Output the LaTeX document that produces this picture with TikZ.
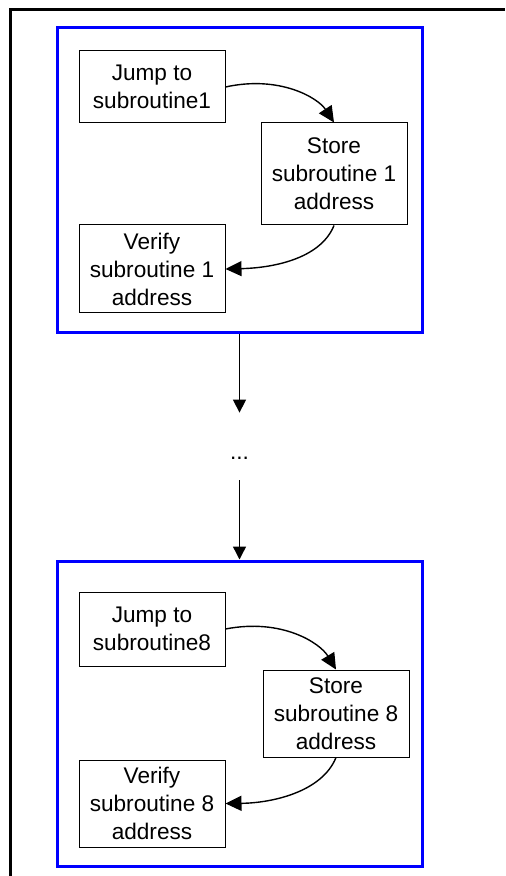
\documentclass[tikz,border=0pt]{standalone}
\usepackage{fontspec}
\setmainfont{Liberation Sans}
\usetikzlibrary{arrows.meta}

\begin{document}
\begin{tikzpicture}[x = 0.5pt, y = -0.5pt]
\tikzstyle{BoxStyle}=[shape = rectangle,
                      draw,
                      line width = 0.5pt,
                      minimum width = 73pt,
                      inner sep = 0pt,
                      align = center,
                      font = \fontsize{11.3}{14}\selectfont]
\tikzstyle{GroupStyle}=[shape = rectangle,
                        draw = blue,
                        line width = 1.5pt,
                        minimum width = 182.5pt,
                        minimum height = 152.5pt]
\tikzstyle{EdgeStyle}=[-{Triangle[length = 6.5pt, width = 6.5pt]},
                       line width = 0.7pt]
\tikzstyle{CurveStyle}=[-{Triangle[length = 8pt, width = 7.5pt]},
                        line width = 0.7pt]
\useasboundingbox (0,0) rectangle (505,876);
\draw[line width = 1.5pt] (10,876) -- (10,10) -- (505,10);
% first subroutine
\node[GroupStyle] (group1) at (239.5,180.5) {};
\node[BoxStyle, minimum height = 36pt] (jump1) at (152,87) {Jump to\\subroutine1};
\node[BoxStyle, minimum height = 51pt] (store1) at (334,174) {Store\\subroutine 1\\address};
\node[BoxStyle, minimum height = 44pt] (verify1) at (152,269) {Verify\\subroutine 1\\address};
\draw[CurveStyle] (jump1.east) .. controls (280,75) and (318,98) .. (store1.north);
\draw[CurveStyle] (store1.south) .. controls (320,260) and (270,268) .. (verify1.east);
% eighth subroutine
\node[GroupStyle] (group8) at (239.5,713.5) {};
\node[BoxStyle, minimum height = 37pt] (jump8) at (152,629) {Jump to\\subroutine8};
\node[BoxStyle, minimum height = 43.5pt] (store8) at (336,713.5) {Store\\subroutine 8\\address};
\node[BoxStyle, minimum height = 43.5pt] (verify8) at (152,803.5) {Verify\\subroutine 8\\address};
\draw[CurveStyle] (jump8.east) .. controls (282,618) and (320,643) .. (store8.north);
\draw[CurveStyle] (store8.south) .. controls (322,792) and (272,803) .. (verify8.east);
% gap
\node[inner sep = 0pt, text height = 23pt, text depth = 10.5pt,
      font = \fontsize{11.3}{14}\selectfont] (dots) at (239.5,446.5) {...};
\draw[EdgeStyle] (group1.south) -- (dots.north);
\draw[EdgeStyle] (dots.south) -- (group8.north);
\end{tikzpicture}
\end{document}
